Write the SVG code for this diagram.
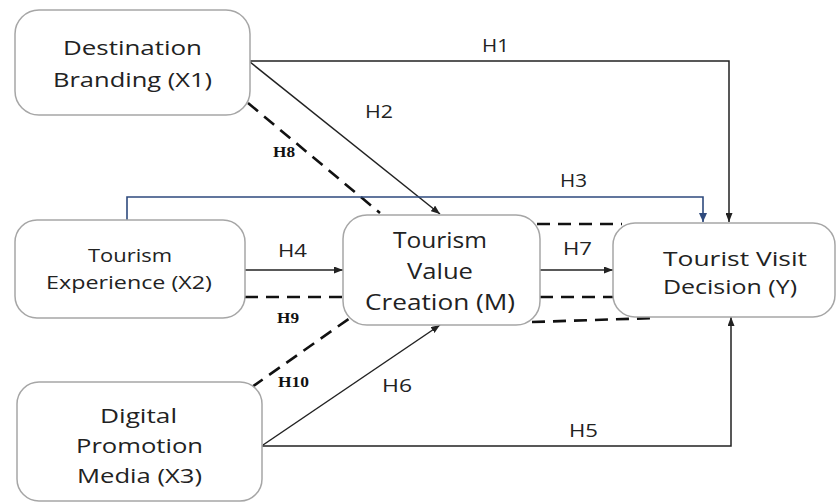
<svg xmlns="http://www.w3.org/2000/svg" width="838" height="504" viewBox="0 0 838 504">
<defs>
<marker id="ah" markerUnits="userSpaceOnUse" markerWidth="9" markerHeight="7" refX="9" refY="3.5" orient="auto"><path d="M0,0 L9,3.5 L0,7 z" fill="#222"/></marker>
<marker id="ahb" markerUnits="userSpaceOnUse" markerWidth="9" markerHeight="8" refX="9" refY="4" orient="auto"><path d="M0,0 L9,4 L0,8 z" fill="#2E4A7D"/></marker>
<style>
.box{fill:#fff;stroke:#a6a6a6;stroke-width:1.5}
.nt{font-family:"Open Sans","Liberation Sans",sans-serif;fill:#222;text-anchor:middle}
.lb{font-family:"Open Sans","Liberation Sans",sans-serif;font-size:18px;fill:#222}
.sl{font-family:"Liberation Serif","Times New Roman",serif;font-size:14px;font-weight:bold;fill:#111}
.solid{fill:none;stroke:#222;stroke-width:1.5}
.dash{fill:none;stroke:#111;stroke-width:2.6;stroke-dasharray:13 8}
.blue{fill:none;stroke:#2E4A7D;stroke-width:1.6}
</style>
</defs>
<g id="connectors">
<path class="solid" d="M250,61 H729 V222" marker-end="url(#ah)"/>
<path class="solid" d="M250,62 L440,214" marker-end="url(#ah)"/>
<path class="dash" d="M248,103 L380,213"/>
<path class="blue" d="M127,220 V197 H703 V222" marker-end="url(#ahb)"/>
<path class="solid" d="M245,270 H343" marker-end="url(#ah)"/>
<path class="dash" d="M245,297 H343"/>
<path class="dash" d="M252,387 L350,318"/>
<path class="solid" d="M263,445 L440,325" marker-end="url(#ah)"/>
<path class="solid" d="M262,446 H731 V317" marker-end="url(#ah)"/>
<path class="solid" d="M540,270 H613" marker-end="url(#ah)"/>
<path class="dash" d="M537,224 H622"/>
<path class="dash" d="M540,297 H615"/>
<path class="dash" d="M532,322 L657,318"/>
</g>
<g id="labels">
<text class="lb" x="482" y="52" textLength="27" lengthAdjust="spacingAndGlyphs">H1</text>
<text class="lb" x="365" y="118" textLength="28" lengthAdjust="spacingAndGlyphs">H2</text>
<text class="lb" x="560" y="187" textLength="27" lengthAdjust="spacingAndGlyphs">H3</text>
<text class="lb" x="278" y="257" textLength="29" lengthAdjust="spacingAndGlyphs">H4</text>
<text class="lb" x="569" y="437" textLength="29" lengthAdjust="spacingAndGlyphs">H5</text>
<text class="lb" x="382" y="392" textLength="30" lengthAdjust="spacingAndGlyphs">H6</text>
<text class="lb" x="563" y="255" textLength="29" lengthAdjust="spacingAndGlyphs">H7</text>
<text class="sl" x="273" y="157" textLength="22" lengthAdjust="spacingAndGlyphs">H8</text>
<text class="sl" x="277" y="323" textLength="22" lengthAdjust="spacingAndGlyphs">H9</text>
<text class="sl" x="278" y="387" textLength="31" lengthAdjust="spacingAndGlyphs">H10</text>
</g>
<g id="X1">
<rect class="box" x="15" y="10" width="235" height="105" rx="24"/>
<text class="nt" x="132.5" y="55" font-size="20" textLength="139" lengthAdjust="spacingAndGlyphs">Destination</text>
<text class="nt" x="132.5" y="87" font-size="20" textLength="159" lengthAdjust="spacingAndGlyphs">Branding (X1)</text>
</g>
<g id="X2">
<rect class="box" x="15" y="220" width="230" height="98" rx="22"/>
<text class="nt" x="130" y="262" font-size="19" textLength="84" lengthAdjust="spacingAndGlyphs">Tourism</text>
<text class="nt" x="129" y="289" font-size="19" textLength="166" lengthAdjust="spacingAndGlyphs">Experience (X2)</text>
</g>
<g id="X3">
<rect class="box" x="17" y="382" width="245" height="119" rx="22"/>
<text class="nt" x="138.5" y="423" font-size="20" textLength="77" lengthAdjust="spacingAndGlyphs">Digital</text>
<text class="nt" x="139.5" y="453" font-size="20" textLength="127" lengthAdjust="spacingAndGlyphs">Promotion</text>
<text class="nt" x="139.5" y="483" font-size="20" textLength="125" lengthAdjust="spacingAndGlyphs">Media (X3)</text>
</g>
<g id="M">
<rect class="box" x="343" y="215" width="197" height="110" rx="24"/>
<text class="nt" x="440" y="248" font-size="21" textLength="94" lengthAdjust="spacingAndGlyphs">Tourism</text>
<text class="nt" x="440" y="279" font-size="21" textLength="66" lengthAdjust="spacingAndGlyphs">Value</text>
<text class="nt" x="440" y="310" font-size="21" textLength="150" lengthAdjust="spacingAndGlyphs">Creation (M)</text>
</g>
<g id="Y">
<rect class="box" x="613" y="223" width="222" height="94" rx="22"/>
<text class="nt" x="735" y="266" font-size="20" textLength="144" lengthAdjust="spacingAndGlyphs">Tourist Visit</text>
<text class="nt" x="730" y="294" font-size="20" textLength="134" lengthAdjust="spacingAndGlyphs">Decision (Y)</text>
</g>
</svg>
